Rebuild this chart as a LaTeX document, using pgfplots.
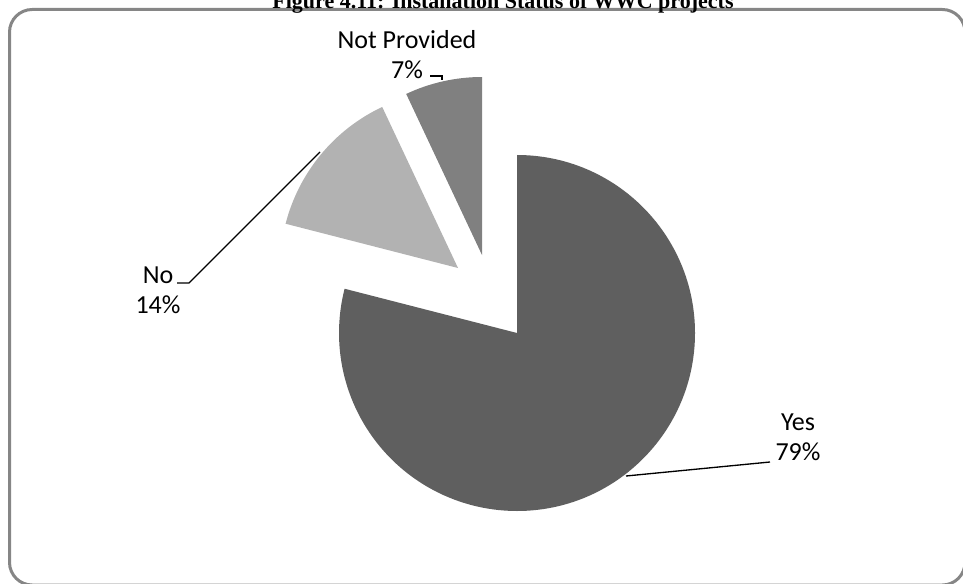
\documentclass[border=0pt]{standalone}
\usepackage{pgfplots}
\pgfplotsset{compat=1.18}
\usepackage{fontspec}
\setmainfont{Carlito}
\newfontfamily\titlefont{Liberation Serif}
\definecolor{yescol}{RGB}{95,95,95}
\definecolor{nocol}{RGB}{178,178,178}
\definecolor{npcol}{RGB}{128,128,128}
\definecolor{bordercol}{RGB}{134,134,134}
% values (percent)
\def\vYes{79}
\def\vNo{14}
\def\vNP{7}
\begin{document}
\begin{tikzpicture}
\begin{axis}[width=722.25pt,height=437.25pt,scale only axis,
  xmin=0,xmax=963,ymin=0,ymax=583,axis lines=none,clip=false]
% border
\draw[bordercol,line width=2.25pt,rounded corners=17pt]
  (axis cs:9.5,573.5) rectangle (axis cs:965,-2);
% title (partly cut off at the top)
\node[anchor=base,font=\titlefont\bfseries\fontsize{16.5}{19}\selectfont]
  at (axis cs:503,574) {Figure 4.11: Installation Status of WWC projects};
% slices
\pgfmathsetmacro{\aA}{90}
\pgfmathsetmacro{\aB}{90-\vYes*3.6}
\pgfmathsetmacro{\aC}{\aB-\vNo*3.6}
\pgfmathsetmacro{\aD}{\aC-\vNP*3.6}
\fill[yescol] (axis cs:517,250) -- ++(\aA:133.5pt)
  arc[start angle=\aA,end angle=\aB,radius=133.5pt] -- cycle;
\fill[nocol] (axis cs:458,315) -- ++(\aB+360:133.5pt)
  arc[start angle=\aB+360,end angle=\aC+360,radius=133.5pt] -- cycle;
\fill[npcol] (axis cs:482,328) -- ++(\aC+360:133.5pt)
  arc[start angle=\aC+360,end angle=\aD+360,radius=133.5pt] -- cycle;
% leader lines
\draw[black,line width=1pt] (axis cs:626,107) -- (axis cs:770,121);
\draw[black,line width=1pt] (axis cs:320,431) -- (axis cs:189,300) -- (axis cs:177,300);
\draw[black,line width=1pt] (axis cs:430,507) -- (axis cs:442,507) -- (axis cs:442,503);
% labels
\node[align=center,font=\fontsize{19.5}{22.5}\selectfont] at (axis cs:798,146) {Yes\\79\%};
\node[align=center,font=\fontsize{19.5}{22.5}\selectfont] at (axis cs:158,293) {No\\14\%};
\node[align=center,font=\fontsize{19.5}{22.5}\selectfont] at (axis cs:407,528) {Not Provided\\7\%};
\end{axis}
\pgfresetboundingbox
\path[use as bounding box] (current axis.south west) rectangle (current axis.north east);
\end{tikzpicture}
\end{document}
